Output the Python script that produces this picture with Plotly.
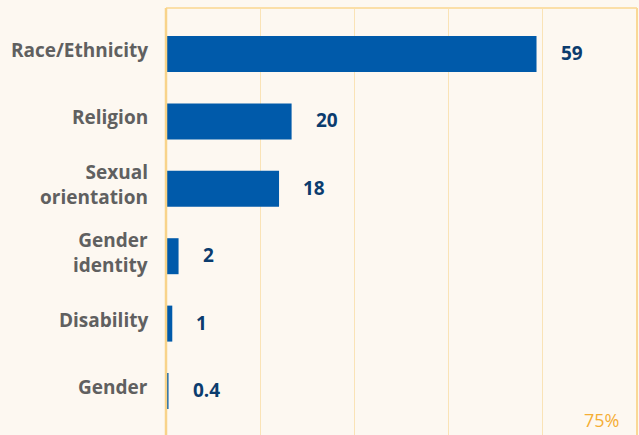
import plotly.graph_objects as go

categories = ["Race/Ethnicity", "Religion", "Sexual<br>orientation", "Gender<br>identity", "Disability", "Gender"]
values = [59, 20, 18, 2, 1, 0.4]
value_labels = ["59", "20", "18", "2", "1", "0.4"]
x_max = 75
grid_vals = [15, 30, 45, 60]
corner_label = "75%"

BG = "#FDF8F1"
BAR = "#005AAA"
GRID = "#FAE3B6"
AXIS = "#F8D38A"
CAT_COL = "#606060"
VAL_COL = "#0B3C6E"
FONT = "Open Sans"

fig = go.Figure()
fig.add_trace(go.Bar(
    x=values, y=categories, orientation="h",
    marker=dict(color=BAR, line=dict(width=0)),
    width=0.534, hoverinfo="skip",
))

for c, v, t in zip(categories, values, value_labels):
    fig.add_annotation(x=v, y=c, text=t, showarrow=False, xanchor="left", yanchor="middle",
                       xshift=22, yshift=1,
                       font=dict(family=FONT, size=19, color=VAL_COL, weight="bold"))
    # category label left of the axis
    fig.add_annotation(x=0, xref="paper", y=c, text=c, showarrow=False, xanchor="right",
                       yanchor="middle", align="right", xshift=-16, yshift=4,
                       font=dict(family=FONT, size=19, color=CAT_COL, weight="bold"))

fig.add_annotation(x=x_max, y=0.035, yref="paper", text=corner_label, showarrow=False,
                   xanchor="right", yanchor="middle", xshift=-16,
                   font=dict(family=FONT, size=18, color="#F5AE35"))

# frame lines: top, left, right
fig.add_shape(type="line", xref="paper", yref="paper", x0=0, x1=1, y0=1, y1=1,
              line=dict(color="#FBDFA8", width=2))
fig.add_shape(type="line", xref="paper", yref="paper", x0=0, x1=0, y0=0, y1=1,
              line=dict(color=AXIS, width=2.5))
fig.add_shape(type="line", xref="paper", yref="paper", x0=1, x1=1, y0=0, y1=1,
              line=dict(color="#FAD896", width=2))

fig.update_layout(
    width=639, height=435,
    margin=dict(l=166, r=2, t=8, b=0, autoexpand=False),
    paper_bgcolor=BG, plot_bgcolor=BG,
    showlegend=False,
    xaxis=dict(range=[0, x_max], tickvals=grid_vals, showticklabels=False, automargin=False,
               showgrid=True, gridcolor=GRID, gridwidth=1, zeroline=False, showline=False,
               fixedrange=True),
    yaxis=dict(type="category", categoryarray=categories, range=[5.653, -0.683],
               automargin=False, showticklabels=False,
               showgrid=False, zeroline=False, showline=False, ticks="",
               fixedrange=True),
)

fig.write_html(
    "out.html",
    config={"displayModeBar": False},
    post_script="document.body.style.margin='0';document.body.style.padding='0';"
                "document.body.style.overflow='hidden';document.body.style.background='" + BG + "';",
)
